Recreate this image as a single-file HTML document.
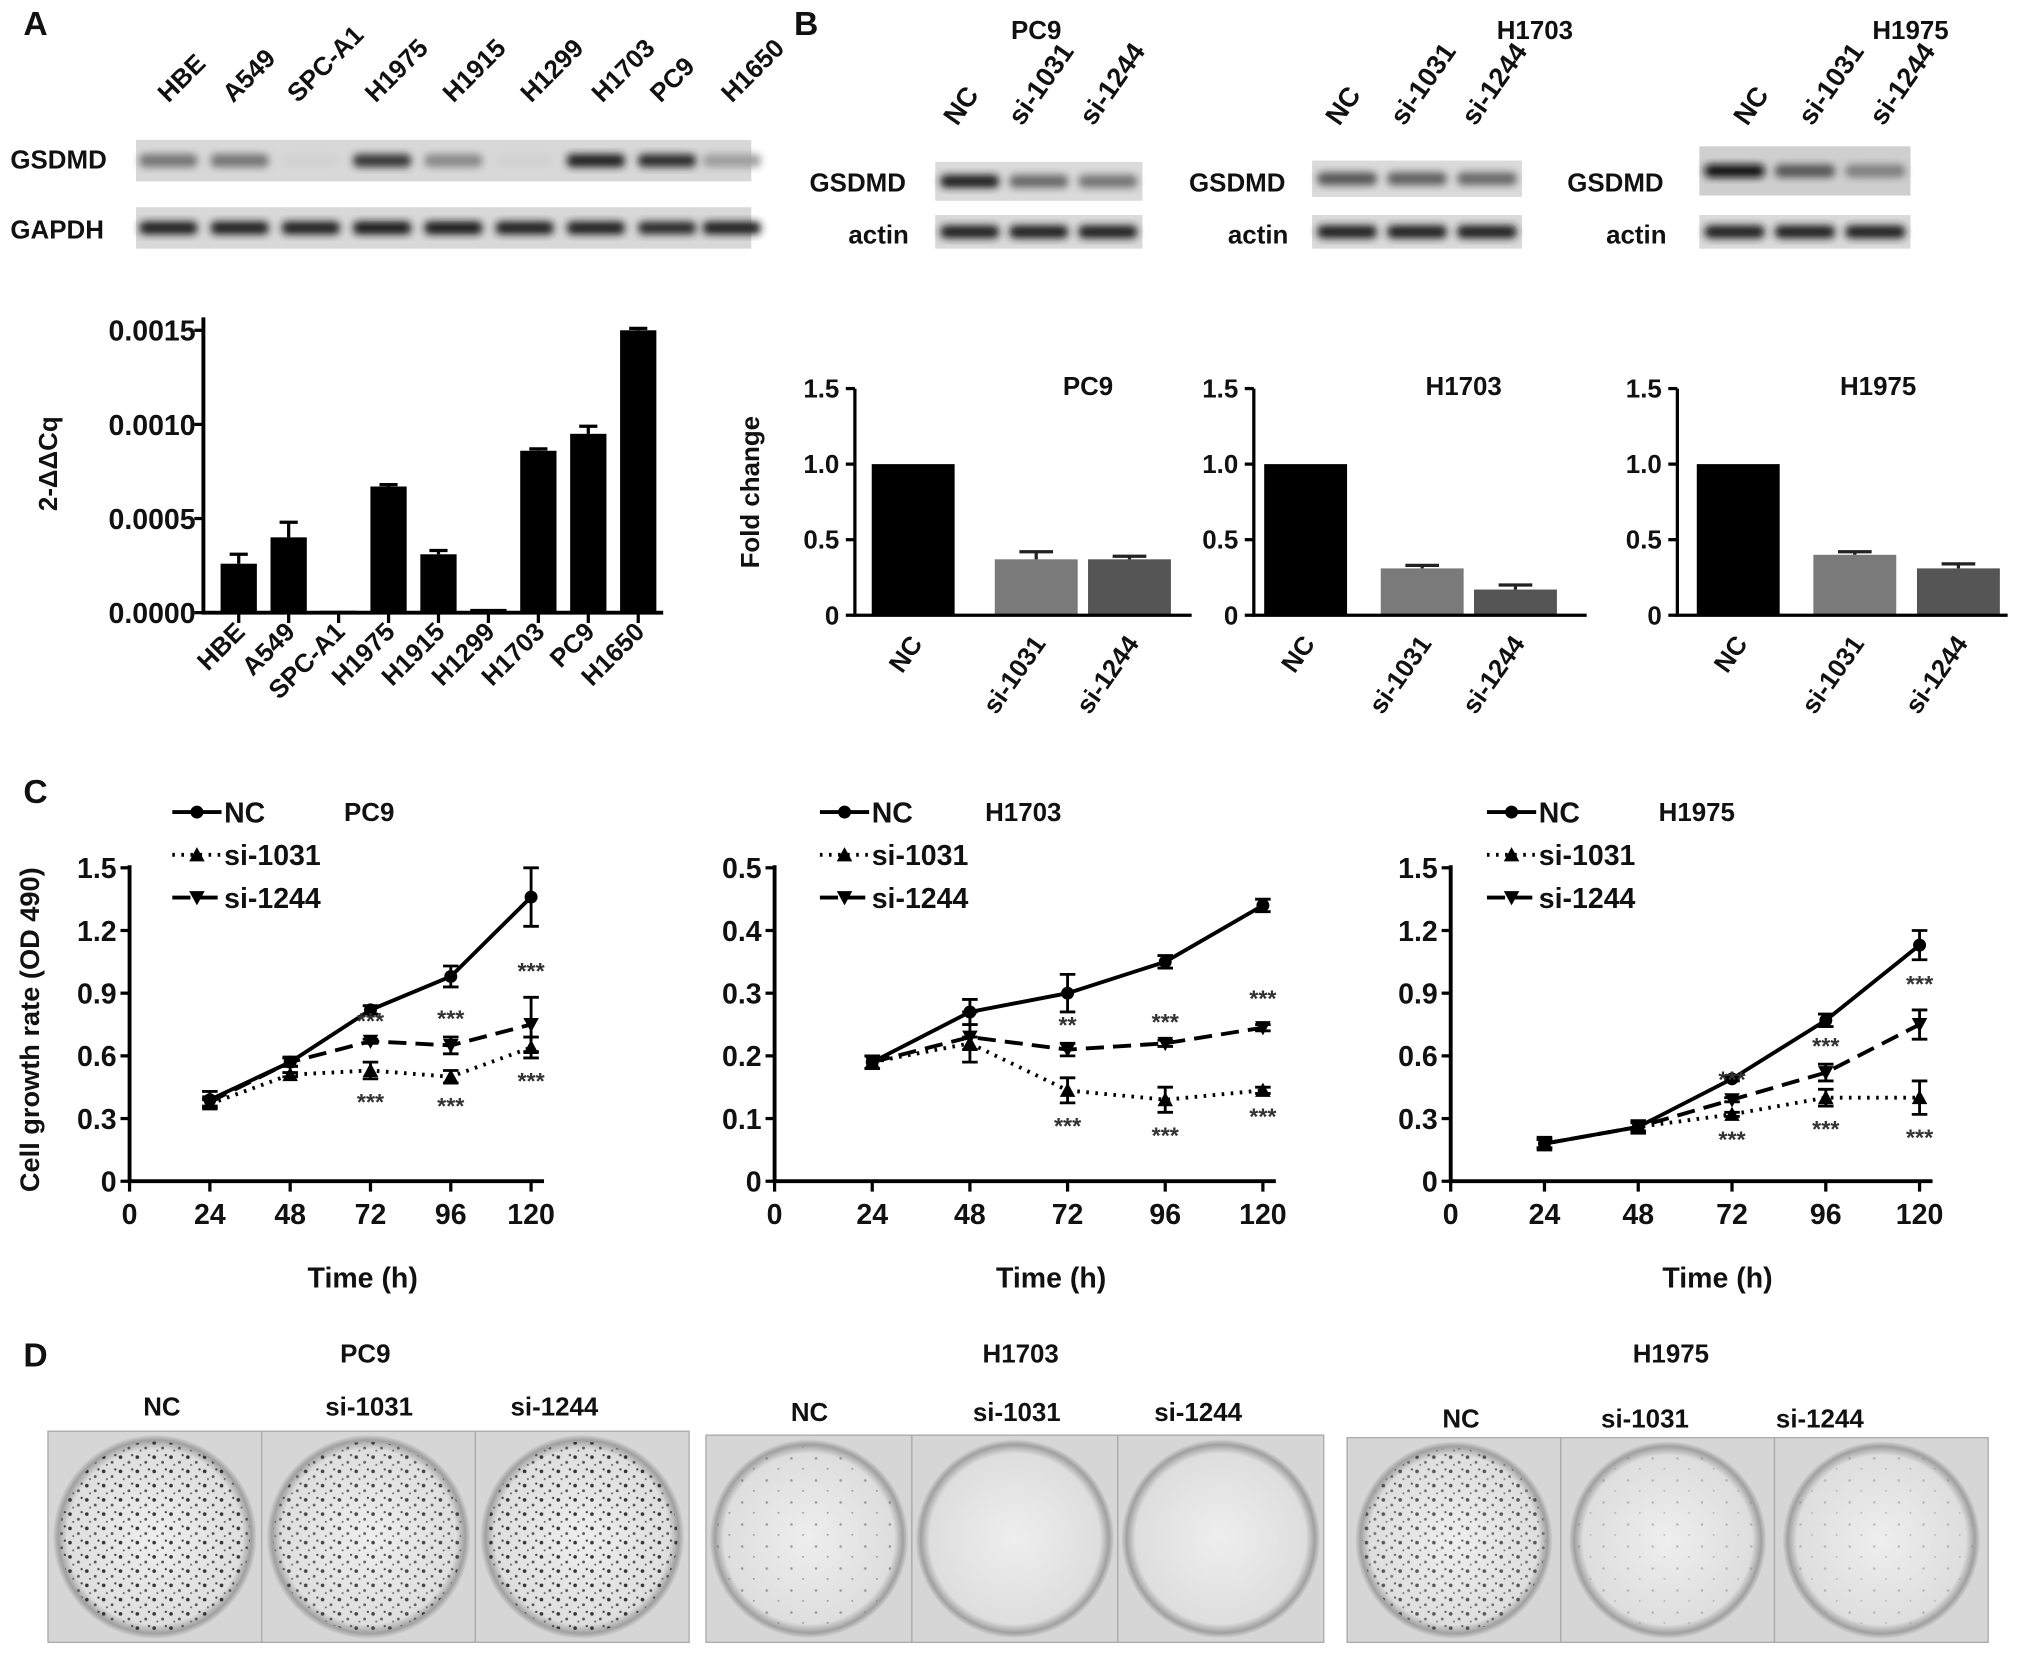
<!DOCTYPE html>
<html><head><meta charset="utf-8"><style>
html,body{margin:0;padding:0;background:#fff;}
svg{display:block;font-family:"Liberation Sans",Arial,sans-serif;font-weight:bold;}
</style></head><body>
<svg id="fig" xmlns="http://www.w3.org/2000/svg" width="2031" height="1654" viewBox="0 0 1568 1277">
<defs>
<filter id="blur" x="-20%" y="-50%" width="140%" height="200%"><feGaussianBlur stdDeviation="3"/></filter>
<pattern id="dots" width="13" height="11" patternUnits="userSpaceOnUse"><circle cx="2" cy="3" r="1.4" fill="#333"/><circle cx="8.5" cy="7" r="1.1" fill="#555"/><circle cx="11" cy="1.5" r="0.9" fill="#444"/><circle cx="4.5" cy="9" r="0.8" fill="#666"/></pattern>
<pattern id="dotsLight" width="19" height="17" patternUnits="userSpaceOnUse"><circle cx="3" cy="4" r="1" fill="#666"/><circle cx="12" cy="12" r="0.8" fill="#777"/></pattern>
<radialGradient id="plate" cx="50%" cy="50%" r="50%"><stop offset="0%" stop-color="#eeeeee"/><stop offset="86%" stop-color="#dedede"/><stop offset="95%" stop-color="#a0a0a0"/><stop offset="100%" stop-color="#d0d0d0"/></radialGradient>
</defs>
<g id="root"></g>
</svg>
<script>
const NS="http://www.w3.org/2000/svg";
const root=document.getElementById('root');
function mk(tag,attrs,parent){const e=document.createElementNS(NS,tag);for(const k in attrs)e.setAttribute(k,attrs[k]);(parent||root).appendChild(e);return e;}
function txt(x,y,s,size,anchor,parent,rot){const t=mk('text',{x:x,y:y,'font-size':size,'text-anchor':anchor||'middle',fill:'#111'},parent);if(rot)t.setAttribute('transform','rotate('+rot+' '+x+' '+y+')');t.textContent=s;return t;}

const letters=[["A",18,27],["B",613,27],["C",18,620],["D",18,1055]];
letters.forEach(l=>{const t=txt(l[1],l[2],l[0],26,'start');

});

function blot(x,y,w,h,lanes,intens,name,bg){
 const g=mk('g',{});
 
 
 const r=mk('rect',{x:x,y:y,width:w,height:h,fill:bg||'#dcdcdc'},g);
 
 
 lanes.forEach((cx,i)=>{const v=intens[i];if(v<=0)return;
  const c=Math.round(220-210*v);
  const e=mk('rect',{x:cx-w/lanes.length/2+4,y:y+h/2-5,width:w/lanes.length-8,height:10,rx:4,fill:'rgb('+c+','+c+','+c+')',filter:'url(#blur)'},g);
  
  });
}
const aLanes=["HBE","A549","SPC-A1","H1975","H1915","H1299","H1703","PC9","H1650"];
const aLaneX=[140,190,240,300,360,420,475,520,575];
aLanes.forEach((s,i)=>{const t=txt(aLaneX[i]-10,80,s,20,'start',null,-45);

});
const aLx=[130,185,240,295,350,405,460,515,565];
blot(105,108,475,32,aLx,[0.5,0.5,0.05,0.8,0.4,0.05,0.9,0.85,0.3],'gsdmd-blot-a','#d8d8d8');
blot(105,160,475,32,aLx,[0.9,0.9,0.9,0.95,0.95,0.9,0.9,0.85,0.9],'gapdh-blot-a','#d8d8d8');
[["GSDMD",130],["GAPDH",184]].forEach(l=>{const t=txt(8,l[1],l[0],20,'start');

});

const bGroups=[
 {t:"PC9",tx:800,lx:[745,795,850],x:722,w:160,gy:125,gh:30,g:[0.9,0.55,0.5],lab:625,bg:'#dadada'},
 {t:"H1703",tx:1185,lx:[1040,1090,1145],x:1013,w:162,gy:124,gh:28,g:[0.65,0.6,0.55],lab:918,bg:'#dadada'},
 {t:"H1975",tx:1475,lx:[1355,1405,1460],x:1312,w:163,gy:113,gh:38,g:[1.0,0.65,0.45],lab:1210,bg:'#cfcfcf'}];
bGroups.forEach(b=>{
 const tt=txt(b.tx,30,b.t,20,'middle');
 
 
 ["NC","si-1031","si-1244"].forEach((s,i)=>{const t=txt(b.lx[i]-6,98,s,21,'start',null,-55);
 
 });
 const cx=[0,1,2].map(i=>b.x+b.w/6+i*b.w/3);
 blot(b.x,b.gy,b.w,b.gh,cx,b.g,'gsdmd-blot-'+b.t.toLowerCase(),b.bg);
 blot(b.x,166,b.w,26,cx,[0.9,0.9,0.9],'actin-blot-'+b.t.toLowerCase(),'#dadada');
 const l1=txt(b.lab,148,"GSDMD",20,'start');
 
 
 const l2=txt(b.lab+30,188,"actin",20,'start');
 
 
});
</script>

<script>
const aCats=["HBE","A549","SPC-A1","H1975","H1915","H1299","H1703","PC9","H1650"];
const aVals=[0.00026,0.00040,0.00001,0.00067,0.00031,0.00002,0.00086,0.00095,0.00150];
const aErrs=[0.00005,0.00008,0.0,0.00001,0.00002,0.0,0.00001,0.00004,0.00001];
const aTicks=["0.0000","0.0005","0.0010","0.0015"];
const aTickVals=[0,0.0005,0.001,0.0015];
(function(){
 const x0=157,x1=512,y0=473,yTop=255;
 const ys=v=>y0-(v/0.0015)*(y0-yTop);
 const step=(x1-x0-8)/aCats.length;
 const xs=i=>x0+8+step*(i+0.5);
 const g=mk('g',{});
 
 
 aCats.forEach((c,i)=>{const v=aVals[i];
  const b=mk('rect',{x:xs(i)-14,y:ys(v),width:28,height:y0-ys(v),fill:'#000'},g);
  
  
  if(aErrs[i]>0){const e=mk('path',{d:`M${xs(i)} ${ys(v)} V${ys(v+aErrs[i])} M${xs(i)-7} ${ys(v+aErrs[i])} H${xs(i)+7}`,stroke:'#000','stroke-width':2.5,fill:'none'},g);
  
  }
  const tk=mk('line',{x1:xs(i),x2:xs(i),y1:y0,y2:y0+8,stroke:'#000','stroke-width':2.5},g);
  
  
  const t=txt(xs(i)+6,y0+16,c,20,'end',g,-45);
  
  
 });
 const ax=mk('path',{d:`M${x0} 245 V${y0} H${x1}`,stroke:'#000','stroke-width':3,fill:'none'},g);
 
 
 aTickVals.forEach((v,i)=>{const tk=mk('line',{x1:x0-7,x2:x0,y1:ys(v),y2:ys(v),stroke:'#000','stroke-width':2.5},g);
  
  
  const t=txt(x0-6,ys(v)+8,aTicks[i],22,'end',g);
  
  });
 const yt=txt(44,358,"2-ΔΔCq",20,'middle',g,-90);
 
 
})();
</script>

<script>
const bCats=["NC","si-1031","si-1244"];
const bPC9=[1.0,0.37,0.37];
const bPC9Err=[0,0.05,0.02];
const bH1703=[1.0,0.31,0.17];
const bH1703Err=[0,0.02,0.03];
const bH1975=[1.0,0.40,0.31];
const bH1975Err=[0,0.02,0.03];
const bTicks=["0","0.5","1.0","1.5"];
const bTickVals=[0,0.5,1.0,1.5];
function foldChart(name,title,ax,axEnd,centers,vals,errs,titleX){
 const y0=475,yTop=300;
 const ys=v=>y0-(v/1.5)*(y0-yTop);
 const cols=['#000','#7a7a7a','#555'];
 const g=mk('g',{});
 
 
 bCats.forEach((c,i)=>{const v=vals[i];
  const b=mk('rect',{x:centers[i]-32,y:ys(v),width:64,height:y0-ys(v),fill:cols[i]},g);
  
  
  if(errs[i]>0){const e=mk('path',{d:`M${centers[i]} ${ys(v)} V${ys(v+errs[i])} M${centers[i]-13} ${ys(v+errs[i])} H${centers[i]+13}`,stroke:'#222','stroke-width':2.5,fill:'none'},g);
  
  }
  const t=txt(centers[i]+8,y0+22,c,20,'end',g,-55);
  
  });
 const a=mk('path',{d:`M${ax} ${yTop} V${y0} H${axEnd}`,stroke:'#000','stroke-width':2.5,fill:'none'},g);
 
 
 bTickVals.forEach((v,i)=>{const tk=mk('line',{x1:ax-7,x2:ax,y1:ys(v),y2:ys(v),stroke:'#000','stroke-width':2.5},g);
  
  
  const t=txt(ax-12,ys(v)+7,bTicks[i],20,'end',g);
  
  });
 const tt=txt(titleX,305,title,20,'middle',g);
 
 
}
foldChart('fold-chart-pc9','PC9',660,920,[705,800,872],bPC9,bPC9Err,840);
foldChart('fold-chart-h1703','H1703',968,1225,[1008,1098,1170],bH1703,bH1703Err,1130);
foldChart('fold-chart-h1975','H1975',1295,1550,[1342,1432,1512],bH1975,bH1975Err,1450);
const fy=txt(586,380,"Fold change",20,'middle',null,-90);


</script>

<script>
const cTimes=[24,48,72,96,120];
const cXTicks=[0,24,48,72,96,120];
const pc9NC=[0.39,0.57,0.82,0.98,1.36];
const pc9NCErr=[0.04,0.02,0.02,0.05,0.14];
const pc9S1031=[0.37,0.51,0.53,0.50,0.64];
const pc9S1031Err=[0.02,0.01,0.04,0.03,0.05];
const pc9S1244=[0.38,0.57,0.67,0.65,0.75];
const pc9S1244Err=[0.02,0.02,0.01,0.04,0.13];
const h1703NC=[0.19,0.27,0.30,0.35,0.44];
const h1703NCErr=[0.01,0.02,0.03,0.01,0.01];
const h1703S1031=[0.19,0.22,0.145,0.13,0.145];
const h1703S1031Err=[0.01,0.01,0.02,0.02,0.005];
const h1703S1244=[0.19,0.23,0.21,0.22,0.245];
const h1703S1244Err=[0.01,0.04,0.01,0.005,0.005];
const h1975NC=[0.18,0.26,0.49,0.77,1.13];
const h1975NCErr=[0.03,0.03,0.01,0.03,0.07];
const h1975S1031=[0.18,0.26,0.32,0.40,0.40];
const h1975S1031Err=[0.02,0.02,0.01,0.04,0.08];
const h1975S1244=[0.18,0.26,0.39,0.52,0.75];
const h1975S1244Err=[0.02,0.02,0.01,0.04,0.07];
const yTicksA=["0","0.3","0.6","0.9","1.2","1.5"];
const yTicksB=["0","0.1","0.2","0.3","0.4","0.5"];
const pc9StarsAbove=["***","***","***"];
const pc9StarsBelow=["***","***","***"];
const h1703StarsAbove=["**","***","***"];
const h1703StarsBelow=["***","***","***"];

function growth(cfg){
 const y0=912,yTop=670;
 const xs=t=>cfg.ax+(t/120)*(cfg.x120-cfg.ax);
 const ys=v=>y0-(v/cfg.ymax)*(y0-yTop);
 const g=mk('g',{});
 
 
 const a=mk('path',{d:`M${cfg.ax} ${yTop-2} V${y0} H${cfg.x120+10}`,stroke:'#000','stroke-width':3,fill:'none'},g);
 
 
 cfg.yt.forEach((s,i)=>{const v=cfg.ymax*i/5;
  const tk=mk('line',{x1:cfg.ax-7,x2:cfg.ax,y1:ys(v),y2:ys(v),stroke:'#000','stroke-width':2.5},g);
  
  
  const t=txt(cfg.ax-10,ys(v)+8,s,22,'end',g);
  
  });
 cXTicks.forEach(tv=>{const tk=mk('line',{x1:xs(tv),x2:xs(tv),y1:y0,y2:y0+8,stroke:'#000','stroke-width':2.5},g);
  
  
  const t=txt(xs(tv),y0+33,String(tv),22,'middle',g);
  
  });
 const xt=txt(cfg.ax+(cfg.x120-cfg.ax)*0.5+25,y0+82,"Time (h)",22,'middle',g);
 
 
 const tt=txt(cfg.tx,634,cfg.title,20,'middle',g);
 
 
 const series=[
  {n:'si-1031',v:cfg.s1,e:cfg.s1e,dash:'2 5',m:'up'},
  {n:'si-1244',v:cfg.s2,e:cfg.s2e,dash:'14 7',m:'down'},
  {n:'NC',v:cfg.nc,e:cfg.nce,dash:'',m:'circle'}];
 series.forEach(s=>{
  const d=s.v.map((v,i)=>(i?'L':'M')+xs(cTimes[i])+' '+ys(v)).join(' ');
  const p=mk('path',{d:d,stroke:'#000','stroke-width':3,fill:'none','stroke-dasharray':s.dash},g);
  
  
  s.v.forEach((v,i)=>{const x=xs(cTimes[i]),y=ys(v),e=s.e[i];
   const eb=mk('path',{d:`M${x} ${ys(v-e)} V${ys(v+e)} M${x-6} ${ys(v-e)} H${x+6} M${x-6} ${ys(v+e)} H${x+6}`,stroke:'#000','stroke-width':2.2,fill:'none'},g);
   
   
   let m;
   if(s.m==='circle')m=mk('circle',{cx:x,cy:y,r:5,fill:'#000'},g);
   else if(s.m==='up')m=mk('path',{d:`M${x} ${y-6} L${x+6} ${y+5} L${x-6} ${y+5}Z`,fill:'#000'},g);
   else m=mk('path',{d:`M${x} ${y+6} L${x+6} ${y-5} L${x-6} ${y-5}Z`,fill:'#000'},g);
   
   });
 });
 [2,3,4].forEach((k,j)=>{const x=xs(cTimes[k]);
  if(cfg.sa){const t=txt(x,ys(cfg.s2[k]+cfg.s2e[k])-8+(k===4?-6:0),cfg.sa[j],18,'middle',g);
   t.setAttribute('fill','#333');
   
   }
  if(cfg.sb){const t=txt(x,ys(cfg.s1[k]-cfg.s1e[k])+24,cfg.sb[j],18,'middle',g);
   t.setAttribute('fill','#333');
   
   }
 });
 const lg=[["NC",'',"circle"],["si-1031",'2 5',"up"],["si-1244",'14 7',"down"]];
 lg.forEach((l,i)=>{const y=627+i*33,x=cfg.lx;
  const ln=mk('line',{x1:x,x2:x+38,y1:y,y2:y,stroke:'#000','stroke-width':3,'stroke-dasharray':l[1]},g);
  
  
  let m;
  if(l[2]==='circle')m=mk('circle',{cx:x+19,cy:y,r:5,fill:'#000'},g);
  else if(l[2]==='up')m=mk('path',{d:`M${x+19} ${y-6} L${x+25} ${y+5} L${x+13} ${y+5}Z`,fill:'#000'},g);
  else m=mk('path',{d:`M${x+19} ${y+6} L${x+25} ${y-5} L${x+13} ${y-5}Z`,fill:'#000'},g);
  
  
  const t=txt(x+40,y+8,l[0],22,'start',g);
  
  });
}
growth({name:'growth-chart-pc9',title:'PC9',tx:285,ax:100,x120:410,ymax:1.5,yt:yTicksA,lx:133,
 nc:pc9NC,nce:pc9NCErr,s1:pc9S1031,s1e:pc9S1031Err,s2:pc9S1244,s2e:pc9S1244Err,sa:pc9StarsAbove,sb:pc9StarsBelow});
growth({name:'growth-chart-h1703',title:'H1703',tx:790,ax:598,x120:975,ymax:0.5,yt:yTicksB,lx:633,
 nc:h1703NC,nce:h1703NCErr,s1:h1703S1031,s1e:h1703S1031Err,s2:h1703S1244,s2e:h1703S1244Err,sa:h1703StarsAbove,sb:h1703StarsBelow});
growth({name:'growth-chart-h1975',title:'H1975',tx:1310,ax:1120,x120:1482,ymax:1.5,yt:yTicksA,lx:1148,
 nc:h1975NC,nce:h1975NCErr,s1:h1975S1031,s1e:h1975S1031Err,s2:h1975S1244,s2e:h1975S1244Err,sa:pc9StarsAbove,sb:pc9StarsBelow});
const cy=txt(30,795,"Cell growth rate (OD 490)",21,'middle',null,-90);


</script>

<script>
const dGroups=[
 {t:"PC9",tx:282,x:37,y:1105,w:495,labs:[[125,"NC"],[285,"si-1031"],[428,"si-1244"]],ly:1093,dens:[1,0.7,0.8]},
 {t:"H1703",tx:788,x:545,y:1108,w:477,labs:[[625,"NC"],[785,"si-1031"],[925,"si-1244"]],ly:1097,dens:[0.4,0,0]},
 {t:"H1975",tx:1290,x:1040,y:1110,w:495,labs:[[1128,"NC"],[1270,"si-1031"],[1405,"si-1244"]],ly:1102,dens:[0.6,0.15,0.15]}];
dGroups.forEach(d=>{
 const tt=txt(d.tx,1052,d.t,20,'middle');
 
 
 d.labs.forEach(l=>{const t=txt(l[0],d.ly,l[1],20,'middle');
  
  });
 const h=1268-d.y,cw=d.w/3;
 for(let i=0;i<3;i++){
  const x=d.x+i*cw;
  const bg=mk('rect',{x:x,y:d.y,width:cw,height:h,fill:'#d6d6d6',stroke:'#aaa','stroke-width':1});
  
  
  const r=Math.min(cw,h)/2-3;
  const c=mk('circle',{cx:x+cw/2,cy:d.y+h/2,r:r,fill:'url(#plate)'});
  
  
  if(d.dens[i]>0){const s=mk('circle',{cx:x+cw/2,cy:d.y+h/2,r:r-5,fill:d.dens[i]>0.5?'url(#dots)':'url(#dotsLight)',opacity:Math.min(1,d.dens[i]+0.2)});
  
  }
 }
});
</script>
</body></html>
